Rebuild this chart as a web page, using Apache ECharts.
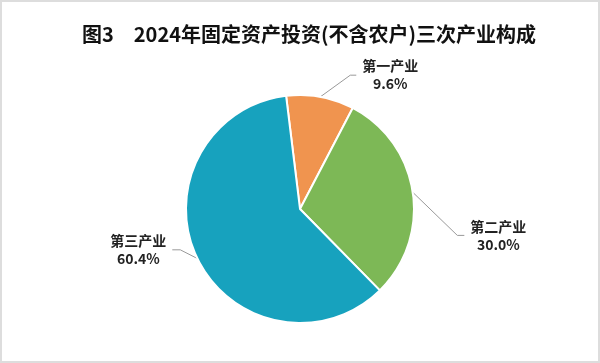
<!DOCTYPE html>
<html><head><meta charset="utf-8">
<script src="https://cdn.jsdelivr.net/npm/echarts@6/dist/echarts.min.js"></script>
<style>html,body{margin:0;padding:0;background:#fff}#c{width:600px;height:363px;box-sizing:border-box;border:2px solid #ddd}</style>
</head><body><div id="c"></div>
<script>
const titleText = '图3　2024年固定资产投资(不含农户)三次产业构成';
const categories = ['第一产业', '第二产业', '第三产业'];
const values = [9.6, 30.0, 60.4];
const colors = ['#F0944F', '#7DB856', '#17A2BE'];

// label guide line settings per slice (styling only)
const lineLen = [22, 40, 10];
const lineLen2 = [6, 7, 8];
const labelShift = [[26, 0], [5, 49], [-8, -13]];

const chart = echarts.init(document.getElementById('c'));
chart.setOption({
  animation: false,
  title: {
    text: titleText, left: 75, top: 17,
    textStyle: { fontFamily: 'Noto Sans CJK SC', fontWeight: 'bold', fontSize: 20, color: '#111' }
  },
  series: [{
    type: 'pie',
    center: [298, 207],
    radius: 114,
    startAngle: 97,
    clockwise: true,
    data: categories.map((c, i) => ({
      name: c, value: values[i], itemStyle: { color: colors[i] },
      labelLine: { length: lineLen[i], length2: lineLen2[i] }
    })),
    itemStyle: { borderColor: '#fff', borderWidth: 2 },
    label: {
      formatter: p => '{a|' + p.name + '}\n{a|' + p.value.toFixed(1) + '%}',
      rich: { a: { width: 60, align: 'center', fontFamily: 'Noto Sans CJK SC', fontSize: 14, fontWeight: 'bold', color: '#222', lineHeight: 18 } },
      distanceToLabelLine: 4
    },
    labelLine: { lineStyle: { color: '#999', width: 1 } },
    labelLayout: function (params) {
      const s = labelShift[params.dataIndex];
      const pts = params.labelLinePoints;
      if (!pts) return { dx: s[0], dy: s[1] };
      const np = pts.map((p, k) => k === 0 ? [p[0], p[1]] : [p[0] + s[0], p[1] + s[1]]);
      return { dx: s[0], dy: s[1], labelLinePoints: np };
    }
  }]
});
</script></body></html>
